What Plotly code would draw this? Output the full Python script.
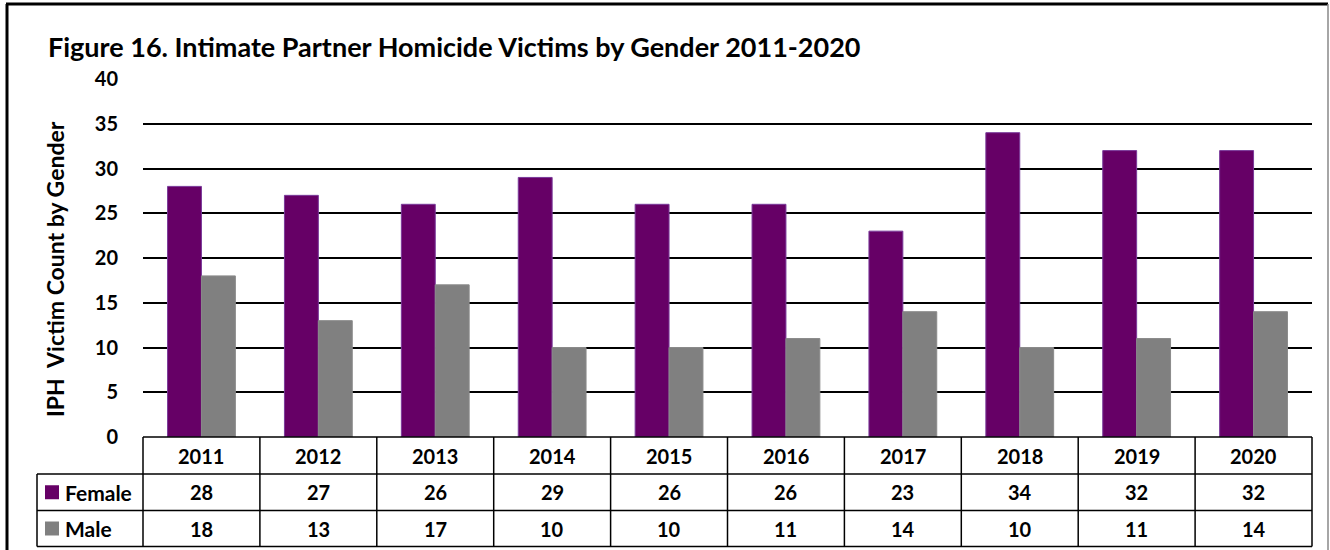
import plotly.graph_objects as go

years = ["2011", "2012", "2013", "2014", "2015", "2016", "2017", "2018", "2019", "2020"]
female = [28, 27, 26, 29, 26, 26, 23, 34, 32, 32]
male = [18, 13, 17, 10, 10, 11, 14, 10, 11, 14]
series_names = ["Female", "Male"]
colors = ["#660066", "#808080"]
title = "Figure 16. Intimate Partner Homicide Victims by Gender 2011-2020"
ytitle = "IPH  Victim Count by Gender"

OFF = 0  # body margin removed via post_script
W, H = 1330, 550
L, R = 143 - OFF, W - (1312 - OFF)
T, B = 79 - OFF, H - (437 - OFF)
PW, PH = W - L - R, H - T - B
FONT = "Lato, 'Open Sans', sans-serif"


def px(x):
    return (x - OFF - L) / PW


def py(y):
    return (H - B - (y - OFF)) / PH


fig = go.Figure()
for name, vals, c in zip(series_names, [female, male], colors):
    fig.add_trace(go.Bar(
        x=years, y=vals, name=name, marker_color=c,
        marker_line=dict(color="#7a3a9a" if name == "Female" else "#8a8a8a", width=1),
        showlegend=False,
    ))

shapes = []
row_top, row1, row2, row_bot = 437, 474, 510.5, 546.5
lab_left = 37
lw = 1.5
shapes.append(dict(type="line", xref="paper", yref="paper", x0=0, x1=1, y0=py(row_top), y1=py(row_top), line=dict(color="black", width=lw)))
for yy in (row1, row2, row_bot):
    shapes.append(dict(type="line", xref="paper", yref="paper", x0=px(lab_left), x1=1, y0=py(yy), y1=py(yy), line=dict(color="black", width=lw)))
n = len(years)
for i in range(n + 1):
    xv = i / n
    shapes.append(dict(type="line", xref="paper", yref="paper", x0=xv, x1=xv, y0=py(row_top), y1=py(row_bot), line=dict(color="black", width=lw)))
shapes.append(dict(type="line", xref="paper", yref="paper", x0=px(lab_left), x1=px(lab_left), y0=py(row1), y1=py(row_bot), line=dict(color="black", width=lw)))
# outer border
shapes.append(dict(type="line", xref="paper", yref="paper", x0=px(6), x1=px(1328), y0=py(4), y1=py(4), line=dict(color="black", width=3)))
shapes.append(dict(type="line", xref="paper", yref="paper", x0=px(7), x1=px(7), y0=py(4), y1=py(552), line=dict(color="black", width=3)))
shapes.append(dict(type="line", xref="paper", yref="paper", x0=px(1328), x1=px(1328), y0=py(4), y1=py(552), line=dict(color="#888888", width=1.5)))

annotations = []
cell_font = dict(family=FONT, size=20, color="black")
for i, yr in enumerate(years):
    xc = (i + 0.5) / n
    for text, (ya, yb) in ((yr, (row_top, row1)), (str(female[i]), (row1, row2)), (str(male[i]), (row2, row_bot))):
        annotations.append(dict(x=xc, y=py((ya + yb) / 2), xref="paper", yref="paper",
                                xanchor="center", yanchor="middle",
                                text="<b>%s</b>" % text, showarrow=False, font=cell_font))
for name, c, (ya, yb) in zip(series_names, colors, [(row1, row2), (row2, row_bot)]):
    yc = (ya + yb) / 2
    shapes.append(dict(type="rect", xref="paper", yref="paper", x0=px(45), x1=px(59), y0=py(yc - 7), y1=py(yc + 7), fillcolor=c, line=dict(width=0)))
    annotations.append(dict(x=px(63), y=py(yc), xref="paper", yref="paper", xanchor="left", yanchor="middle",
                            text="<b>%s</b>" % name, showarrow=False, font=dict(family=FONT, size=21, color="black")))

annotations.append(dict(x=px(46), y=py(46), xref="paper", yref="paper", xanchor="left", yanchor="middle",
                        text="<b>%s</b>" % title, showarrow=False, font=dict(family=FONT, size=27, color="black")))
annotations.append(dict(x=px(55), y=py(269), xref="paper", yref="paper", xanchor="center", yanchor="middle",
                        textangle=-90, text="<b>%s</b>" % ytitle, showarrow=False,
                        font=dict(family=FONT, size=23, color="black")))

fig.update_layout(
    width=W, height=H,
    margin=dict(l=L, r=R, t=T, b=B, autoexpand=False),
    paper_bgcolor="white", plot_bgcolor="white",
    barmode="group", bargap=0.42, bargroupgap=0,
    shapes=shapes, annotations=annotations,
    xaxis=dict(showticklabels=False, showgrid=False, zeroline=False, ticks="", range=[-0.5, 9.5]),
    yaxis=dict(range=[0, 40], dtick=5, showgrid=True, gridcolor="black", gridwidth=1.5,
               zeroline=False, ticks="", ticklabelstandoff=24,
               tickfont=dict(family=FONT, size=20, color="black", weight="bold")),
)
fig.write_html("out.html", config={"displayModeBar": False},
               post_script="document.body.style.margin='0';")
